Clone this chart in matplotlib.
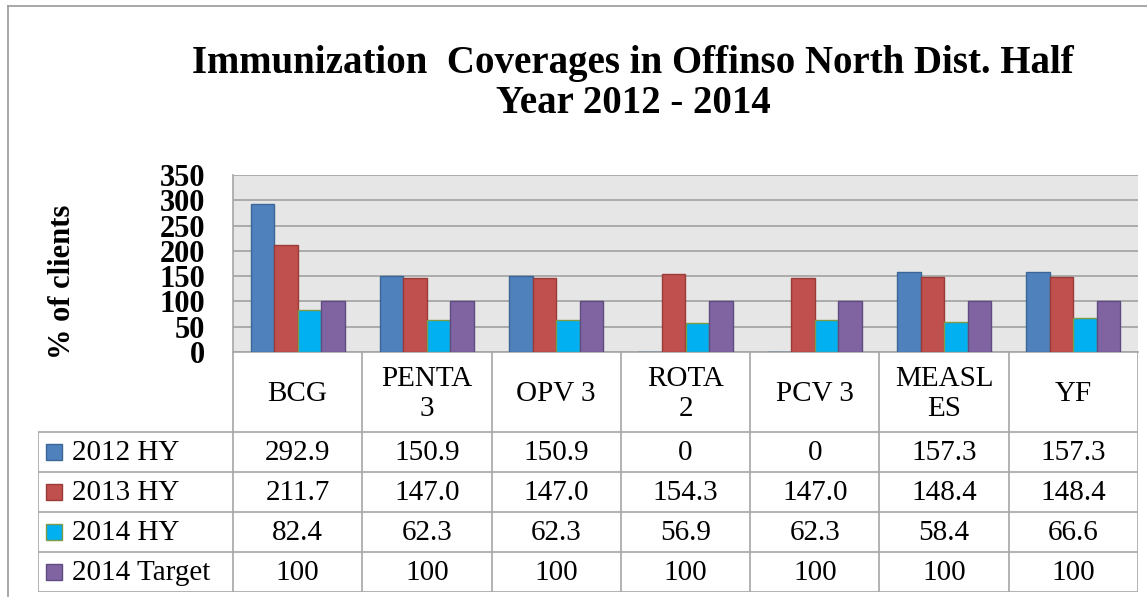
import matplotlib
matplotlib.use("Agg")
import matplotlib.pyplot as plt
from matplotlib.patches import Rectangle
import numpy as np

# chart data
categories = ["BCG", "PENTA\n3", "OPV 3", "ROTA\n2", "PCV 3", "MEASL\nES", "YF"]
series_names = ["2012 HY", "2013 HY", "2014 HY", "2014 Target"]
hy2012 = [292.9, 150.9, 150.9, 0, 0, 157.3, 157.3]
hy2013 = [211.7, 147.0, 147.0, 154.3, 147.0, 148.4, 148.4]
hy2014 = [82.4, 62.3, 62.3, 56.9, 62.3, 58.4, 66.6]
target2014 = [100, 100, 100, 100, 100, 100, 100]
decimals = [1, 1, 1, 0]

series = [hy2012, hy2013, hy2014, target2014]
faces = ['#4F81BD', '#C0504D', '#00B0F0', '#8064A2']
edges = ['#3A6796', '#9B3B38', '#7F9A48', '#5F4B80']
grid_c = '#A6A6A6'
serif = 'Liberation Serif'

W, H = 1147, 597
fig = plt.figure(figsize=(W / 100, H / 100), dpi=100)
fig.patch.set_facecolor('white')


def fx(px):
    return px / W


def fy(py):
    return 1 - py / H


# outer chart frame (left and top edges visible)
fig.add_artist(plt.Line2D([fx(8), fx(8)], [fy(6), 0], color='#999999', lw=1.2))
fig.add_artist(plt.Line2D([fx(8), 1], [fy(6), fy(6)], color='#999999', lw=1.2))

# title
fig.text(fx(633), fy(63), "Immunization  Coverages in Offinso North Dist. Half",
         fontsize=28, fontweight='bold', family=serif, ha='center', va='center')
fig.text(fx(633), fy(104), "Year 2012 - 2014",
         fontsize=28, fontweight='bold', family=serif, ha='center', va='center')

# bar area
left, right, top, bot = 233, 1138, 175, 352
ax = fig.add_axes([fx(left), fy(bot), fx(right - left), (bot - top) / H])
ax.set_facecolor('#E6E6E6')
x = np.arange(len(categories))
bw = 0.182
for i, (vals, fc, ec) in enumerate(zip(series, faces, edges)):
    ax.bar(x + (i - 1.5) * bw, vals, bw, color=fc, edgecolor=ec, linewidth=1, zorder=3)
ax.set_xlim(-0.5, len(categories) - 0.5)
ax.set_ylim(0, 350)
ax.set_yticks(range(0, 351, 50))
ax.set_yticklabels([str(v) for v in range(0, 351, 50)], fontsize=22,
                   fontweight='bold', family=serif)
ax.tick_params(axis='y', length=0, pad=20)
ax.set_xticks([])
ax.yaxis.grid(True, color=grid_c, lw=1.3, zorder=0)
ax.set_axisbelow(True)
for s in ['top', 'right']:
    ax.spines[s].set_visible(False)
for s in ['left', 'bottom']:
    ax.spines[s].set_color(grid_c)
    ax.spines[s].set_linewidth(1.2)

fig.text(fx(62), fy(282), "% of clients", rotation=90, fontsize=22,
         fontweight='bold', family=serif, ha='center', va='center')

# data table under the bars
tl, tt, tb = 38, 352, 592
col_w = (right - left) / len(categories)
x0 = -0.5 - (left - tl) / col_w
tax = fig.add_axes([fx(tl), fy(tb), fx(right - tl), (tb - tt) / H])
tax.set_xlim(x0, len(categories) - 0.5)
tax.set_ylim(tb - tt, 0)
tax.axis('off')

lc = dict(color=grid_c, lw=1.2, solid_capstyle='butt')
hdr = 80
row_h = 40
for k in range(len(categories) + 1):
    tax.plot([k - 0.5, k - 0.5], [0, tb - tt], **lc)
tax.plot([x0, x0], [hdr, tb - tt], **lc)
for r in range(len(series) + 1):
    yy = hdr + r * row_h
    tax.plot([x0, len(categories) - 0.5], [yy, yy], **lc)

for j, cat in enumerate(categories):
    tax.text(j, hdr / 2 + 2, cat, ha='center', va='center', fontsize=21,
             family=serif, linespacing=1.25)

sq = 16 / col_w
for r, (name, vals, fc, ec, d) in enumerate(zip(series_names, series, faces, edges, decimals)):
    yc = hdr + r * row_h + row_h / 2
    tax.add_patch(Rectangle((x0 + 8 / col_w, yc - 8), sq, 16, facecolor=fc,
                            edgecolor=ec, lw=1, clip_on=False))
    tax.text(x0 + 34 / col_w, yc + 1, name, ha='left', va='center', fontsize=21,
             family=serif)
    for j, v in enumerate(vals):
        txt = '0' if v == 0 else f'{v:.{d}f}'
        tax.text(j, yc + 1, txt, ha='center', va='center', fontsize=21, family=serif)

fig.savefig('out.png', dpi=100)
